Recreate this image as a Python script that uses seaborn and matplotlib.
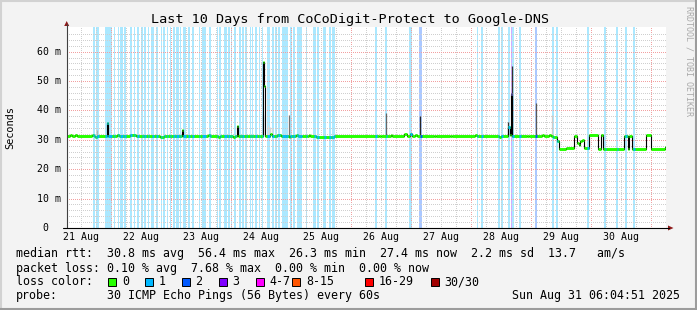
import numpy as np
import pandas as pd
import matplotlib
matplotlib.use("Agg")
import matplotlib.pyplot as plt
import seaborn as sns
from matplotlib.lines import Line2D
from matplotlib.patches import Rectangle, Polygon

# ---------------- data (time: hours since 2025-08-21 00:00, rtt: ms) ----------------
START_H = 6 + 4 / 60 + 51 / 3600          # Thu Aug 21 06:04:51
END_H = START_H + 240.0                   # Sun Aug 31 06:04:51

# median rtt, piecewise constant (change points)
med_t = [START_H, 7.6, 8.4, 9.6, 10.4, 16.4, 17.2, 17.6, 18.4, 22.4, 22.8, 26.4, 27.2,
         31.6, 34.0, 43.6, 45.2, 52.2, 52.6, 62.8, 63.6, 66.8, 67.6, 72.8, 73.6, 74.4,
         74.8, 84.8, 85.2, 85.6, 87.4, 88.2, 90.2, 91.8, 95.2, 95.6, 98.0, 98.8, 100.2,
         102.2, 103.2, 103.6, 106.0, 113.0, 131.0, 131.8, 136.0, 136.4, 141.0, 142.2,
         143.4, 144.2, 145.4, 146.2, 153.0, 153.8, 159.4, 160.2, 169.4, 170.2, 179.0,
         179.8, 182.6, 183.4, 184.0, 184.4, 190.2, 191.0, 196.2, 197.0, 199.0, 199.8,
         200.6, 202.4, 203.0, 205.8, 209.0, 210.4, 211.0, 211.6, 212.4, 213.0, 215.0,
         218.8, 219.9, 220.6, 229.2, 230.6, 231.0, 232.4, 237.9, 239.8, 245.6]
med_v = [31.4, 31.8, 31.4, 31.8, 31.4, 31.7, 31.4, 31.1, 31.4, 35.8, 31.4, 31.8, 31.4,
         31.8, 31.4, 31.1, 31.4, 33.4, 31.4, 31.8, 31.4, 31.1, 31.4, 31.1, 31.4, 34.8,
         31.4, 56.4, 48.2, 31.4, 31.9, 31.4, 31.8, 31.4, 31.1, 31.4, 31.7, 31.4, 31.2,
         31.4, 31.7, 31.4, 31.1, 31.4, 31.2, 31.4, 31.8, 31.4, 31.9, 31.4,
         31.9, 31.4, 31.8, 31.4, 31.2, 31.4, 31.2, 31.4, 31.8, 31.4, 31.1,
         31.4, 34.5, 31.6, 45.6, 31.4, 31.2, 31.4, 31.8, 31.4, 31.7, 31.4,
         31.0, 29.5, 26.9, 27.3, 31.3, 29.0, 28.2, 29.6, 30.0, 27.3, 31.6,
         26.9, 31.5, 27.0, 31.4, 27.0, 31.4, 26.9, 31.6, 27.0, 27.6]

# packet-loss intervals (start h, end h, loss band index)
loss_t0 = [16.7, 18.0, 21.4, 24.9, 26.7, 27.5, 29.1, 31.5, 32.9, 34.2, 36.1, 37.1, 38.6,
           40.1, 41.9, 43.8, 44.9, 46.2, 47.5, 48.6, 49.8, 51.5, 52.6, 54.7, 56.3, 59.0,
           60.3, 63.0, 66.2, 67.3, 69.1, 70.6, 71.8, 73.3, 75.3, 76.3, 77.7, 79.4, 80.3,
           81.4, 83.0, 84.2, 86.2, 88.3, 89.7, 90.7, 92.3, 93.9, 95.5, 96.6, 98.2, 99.5,
           101.9, 104.9, 106.2, 108.9, 111.0, 112.3, 129.4, 133.7, 143.3, 147.3, 170.2,
           172.1, 178.7, 180.1, 182.7, 183.8, 184.3, 187.3, 193.7, 200.6, 202.2, 214.5,
           221.4, 226.2, 229.7, 232.9]
loss_t1 = [17.5, 19.0, 24.1, 25.5, 27.1, 28.5, 29.9, 32.3, 33.3, 35.1, 36.6, 37.7, 39.0,
           40.9, 42.5, 44.2, 45.3, 46.7, 47.8, 49.4, 51.0, 51.9, 53.8, 55.3, 57.1, 59.5,
           61.9, 63.8, 66.7, 67.8, 70.1, 71.3, 72.3, 73.8, 75.8, 77.1, 78.2, 79.9, 80.6,
           82.2, 83.5, 84.6, 87.3, 88.9, 90.2, 91.5, 93.7, 94.7, 96.1, 97.4, 99.3, 100.1,
           102.3, 105.7, 107.0, 109.7, 111.8, 113.4, 130.2, 134.2, 144.1, 148.2, 170.7,
           172.6, 179.3, 180.6, 183.5, 184.3, 185.1, 187.8, 194.2, 201.1, 202.7, 215.0,
           221.9, 226.7, 230.2, 233.4]
loss_lvl = [1] * 61 + [2] + [1] * 5 + [3] + [1] * 2 + [2] + [1] * 7

# smoke (spread of the individual pings) where it stands out
smoke_t = [18.2, 84.6, 86.8, 87.6, 88.4, 95.1, 133.9, 147.5, 182.9, 184.2, 193.9, 200.3]
smoke_lo = [31.4] * 12
smoke_hi = [33.4, 38.5, 35.0, 34.5, 34.0, 38.3, 39.1, 38.0, 36.2, 55.0, 42.5, 38.5]
smoke_density = [0.3, 0.5, 0.15, 0.15, 0.15, 0.55, 0.6, 0.85, 0.8, 0.8, 0.65, 0.2]

day_nums = list(range(21, 31))
day_labels = [f"{d} Aug" for d in day_nums]
ytick_ms = [0, 10, 20, 30, 40, 50, 60]
ytick_labels = ["0", "10 m", "20 m", "30 m", "40 m", "50 m", "60 m"]

loss_band_labels = ["0", "1", "2", "3", "4-7", "8-15", "16-29", "30/30"]
loss_band_colors = ["#26ff00", "#00b8ff", "#0059ff", "#7e00ff", "#ff00ff",
                    "#ff5500", "#ff0000", "#a10000"]

title = "Last 10 Days from CoCoDigit-Protect to Google-DNS"
med_avg, med_max, med_min, med_now, med_sd, am_s = 30.8, 56.4, 26.3, 27.4, 2.2, 13.7
loss_avg, loss_max, loss_min, loss_now = 0.10, 7.68, 0.00, 0.00
probe_txt = "30 ICMP Echo Pings (56 Bytes) every 60s"
stamp_txt = "Sun Aug 31 06:04:51 2025"

# ---------------- drawing ----------------
W, H = 697, 310
sns.set_theme(style="white")
plt.rcParams['font.family'] = ['DejaVu Sans Mono']

fig = plt.figure(figsize=(W / 100, H / 100), dpi=100, facecolor='#f3f3f3')


def fx(x):
    return x / W


def fy(y):
    return 1 - y / H


PL, PR, PT, PB = 66.7, 666.3, 27.3, 228.0
PX_PER_MS = 176.3 / 60.0
ax = fig.add_axes([fx(PL), fy(PB), fx(PR) - fx(PL), fy(PT) - fy(PB)])
ax.set_facecolor('white')
ax.set_xlim(START_H, END_H)
ax.set_ylim(0, (PB - PT) / PX_PER_MS)
for s in ax.spines.values():
    s.set_visible(False)
ax.set_xticks([])
ax.set_yticks([])


def lighten(c, a=0.33):
    r, g, b = matplotlib.colors.to_rgb(c)
    return (1 - a + a * r, 1 - a + a * g, 1 - a + a * b)


# loss background stripes (slightly snapped out to pixel columns)
PAD = 0.08
for a, b, l in zip(loss_t0, loss_t1, loss_lvl):
    ax.axvspan(a - PAD, b + PAD, color=lighten(loss_band_colors[l]), lw=0, zorder=0.5)

# grid (dotted)
MIN_C, MAJ_C = '#cfcfcf', '#f2a0a0'
GRID_KW = dict(lw=0.72, dashes=(0.6, 1.4), zorder=1, antialiased=False)
h = int(np.ceil(START_H / 6) * 6)
while h < END_H:
    ax.axvline(h, color=MAJ_C if h % 24 == 0 else MIN_C, **GRID_KW)
    h += 6
for v in range(2, 68, 2):
    ax.axhline(v, color=MAJ_C if v % 10 == 0 else MIN_C, **GRID_KW)

# smoke
for t, lo, hi, d in zip(smoke_t, smoke_lo, smoke_hi, smoke_density):
    g = 1 - d
    ax.vlines(t, lo, hi, color=(g, g, g), lw=0.9, zorder=2)

# median: black step line
tt = med_t + [END_H]
vv = med_v + [med_v[-1]]
df = pd.DataFrame({'t': tt, 'v': vv})
sns.lineplot(data=df, x='t', y='v', ax=ax, drawstyle='steps-post', color='black',
             lw=0.8, zorder=3, estimator=None)
ax.set_xlabel('')
ax.set_ylabel('')

# coloured median band (loss colour)
BAND_LW = 2.1
ax.hlines(med_v, med_t, med_t[1:] + [END_H], color=loss_band_colors[0], lw=BAND_LW,
          zorder=4, capstyle='butt')
mt = np.array(med_t)
for a, b, l in zip(loss_t0, loss_t1, loss_lvl):
    pts = [a] + [x for x in med_t if a < x < b] + [b]
    for p0, p1 in zip(pts[:-1], pts[1:]):
        idx = np.searchsorted(mt, p0, side='right') - 1
        ax.hlines(med_v[idx], p0, p1, color=loss_band_colors[l], lw=BAND_LW, zorder=4,
                  capstyle='butt')

# axes lines and arrows (figure coords)
fig.add_artist(Line2D([fx(PL), fx(PL)], [fy(PB), fy(24)], color='#404040', lw=0.8))
fig.add_artist(Line2D([fx(63), fx(668.5)], [fy(PB), fy(PB)], color='black', lw=0.8))
ARROW_C = '#8e1a1a'
fig.add_artist(Polygon([[fx(64.2), fy(26)], [fx(69.2), fy(26)], [fx(66.7), fy(21)]],
                       closed=True, color=ARROW_C, lw=0))
fig.add_artist(Polygon([[fx(668), fy(225.5)], [fx(668), fy(230.5)], [fx(673.5), fy(228)]],
                       closed=True, color=ARROW_C, lw=0))

# tick labels
TICK_FS = 7.1
for v, lab in zip(ytick_ms, ytick_labels):
    y = PB - v * PX_PER_MS
    xr = 60.5 if v else 48.0
    fig.text(fx(xr), fy(y), lab, ha='right', va='center', fontsize=TICK_FS, color='black')
for d, lab in zip(day_nums, day_labels):
    hx = (d - 21) * 24 + 12
    x = PL + (hx - START_H) / (END_H - START_H) * (PR - PL)
    fig.text(fx(x), fy(237.5), lab, ha='center', va='center', fontsize=TICK_FS,
             color='black')

# title, axis label, watermark
fig.text(fx(350), fy(19), title, ha='center', va='center', fontsize=9.7, color='black')
fig.text(fx(10), fy(128), "Seconds", ha='center', va='center', rotation=90,
         fontsize=7.4, color='black')
fig.text(fx(688.5), fy(61), "RRDTOOL / TOBI OETIKER", ha='center', va='center',
         rotation=270, fontsize=6.0, color='#a9a9a9')

# legend / stats
LEG_FS = 8.4
line1 = (f"median rtt:  {med_avg:.1f} ms avg  {med_max:.1f} ms max  {med_min:.1f} ms min  "
         f"{med_now:.1f} ms now  {med_sd:.1f} ms sd  {am_s:.1f}   am/s")
line2 = (f"packet loss: {loss_avg:.2f} % avg  {loss_max:.2f} % max  {loss_min:.2f} % min  "
         f"{loss_now:.2f} % now")
fig.text(fx(16), fy(253.3), line1, ha='left', va='center', fontsize=LEG_FS, color='black')
fig.text(fx(16), fy(268.3), line2, ha='left', va='center', fontsize=LEG_FS, color='black')
fig.text(fx(16), fy(281.7), "loss color:", ha='left', va='center', fontsize=LEG_FS,
         color='black')
box_x = [108.3, 145.1, 181.9, 218.7, 255.5, 292.3, 365.0, 431.0]
for bx, lab, col in zip(box_x, loss_band_labels, loss_band_colors):
    fig.add_artist(Rectangle((fx(bx), fy(286)), 8 / W, 8.5 / H, facecolor=col,
                             edgecolor='black', lw=0.7))
    fig.text(fx(bx + 13.5), fy(281.7), lab, ha='left', va='center', fontsize=LEG_FS,
             color='black')
fig.text(fx(16), fy(296), "probe:", ha='left', va='center', fontsize=LEG_FS, color='black')
fig.text(fx(107.3), fy(296), probe_txt, ha='left', va='center', fontsize=LEG_FS,
         color='black')
fig.text(fx(680.5), fy(296), stamp_txt, ha='right', va='center', fontsize=LEG_FS,
         color='black')

# 3-D frame
fig.add_artist(Line2D([0, 1], [fy(1), fy(1)], color='#d2d2d2', lw=1.5))
fig.add_artist(Line2D([fx(1), fx(1)], [0, 1], color='#d2d2d2', lw=1.5))
fig.add_artist(Line2D([0, 1], [fy(309), fy(309)], color='#9c9c9c', lw=1.5))
fig.add_artist(Line2D([fx(696), fx(696)], [0, 1], color='#9c9c9c', lw=1.5))

fig.savefig("out.png", dpi=100, facecolor=fig.get_facecolor())
